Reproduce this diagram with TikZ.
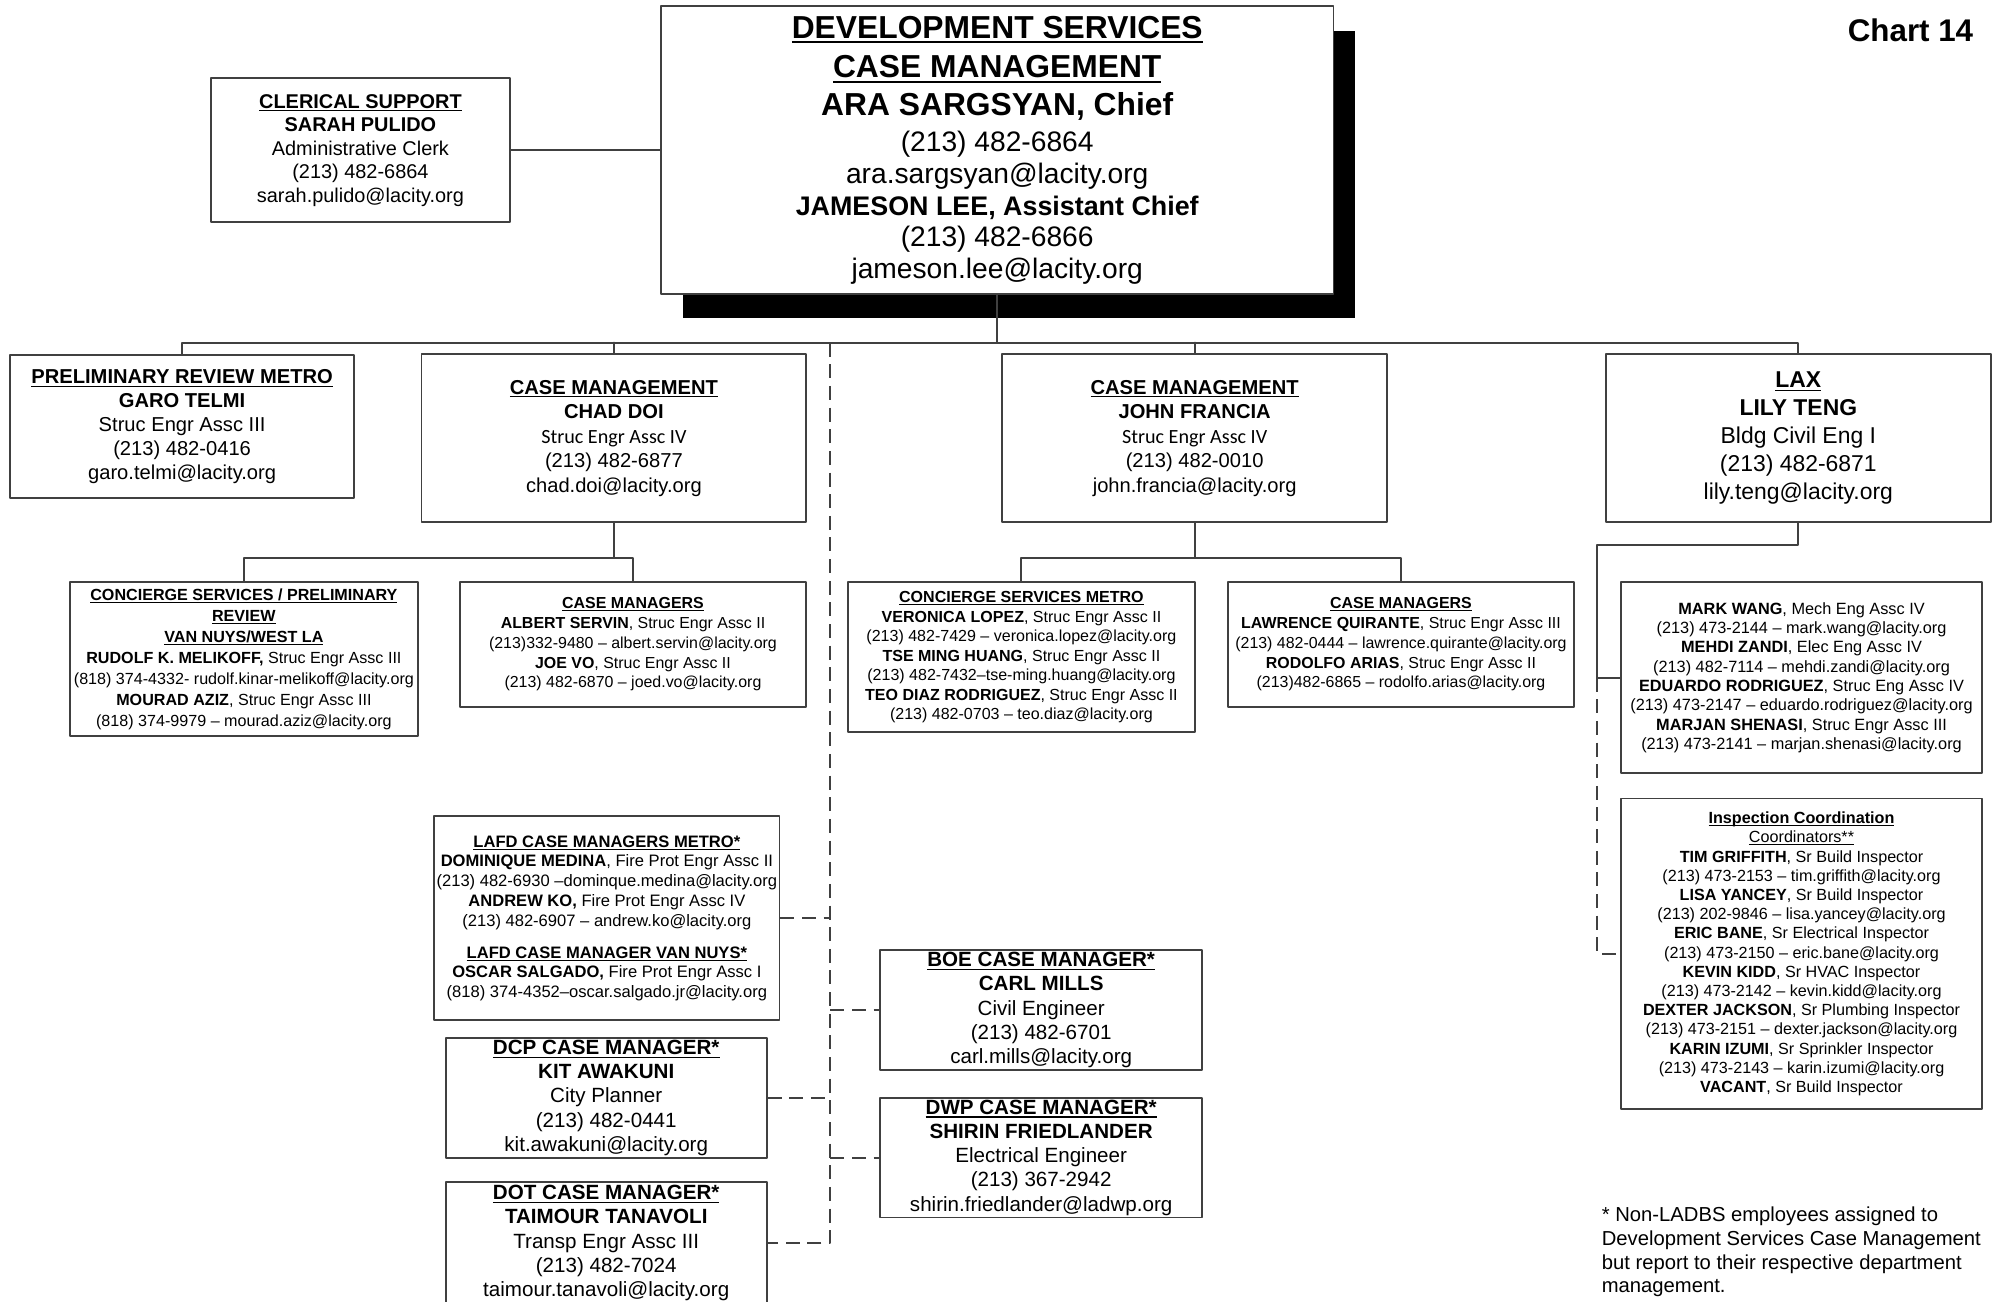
\documentclass[tikz,border=0pt]{standalone}
\usepackage{fontspec}
\setmainfont{Liberation Sans}
\newfontfamily\calfont{Carlito}
\usetikzlibrary{shadows}

\newcommand\ulinetext[1]{\setbox0\hbox{#1}\rlap{\rule[-0.16em]{\wd0}{0.065em}}\box0}
\newcommand\boxtitle[1]{\textbf{\ulinetext{#1}}}

\begin{document}
\begin{tikzpicture}[line cap=round,line join=round,
  orgbox/.style={draw=black!75,line width=0.4pt,fill=white,align=center,inner sep=0pt},
  fsize/.style 2 args={font=\fontsize{#1}{#2}\selectfont},
  link/.style={draw=black!75,line width=0.45pt},
  dlink/.style={link,line cap=butt,dash pattern=on 0.11cm off 0.06cm}]
  \useasboundingbox (0,0) rectangle (15.68,-10.22);
  % 主管与文书
  \node[orgbox,minimum width=5.28cm,minimum height=2.26cm,fsize={6.3}{7.11},
        drop shadow={shadow xshift=0.17cm,shadow yshift=-0.19cm,fill=black,opacity=1}] (main) at (7.83,-1.18)
  {{\fontsize{7.1}{7.1}\selectfont\boxtitle{DEVELOPMENT SERVICES}}\\[0.06cm]
   {\fontsize{7.1}{7.1}\selectfont\boxtitle{CASE MANAGEMENT}}\\[0.05cm]
   {\fontsize{7.1}{7.1}\selectfont\bfseries ARA SARGSYAN, Chief}\\[0.03cm]
   (213) 482-6864\\
   ara.sargsyan@lacity.org\\
   {\fontsize{6}{7.1}\selectfont\bfseries JAMESON LEE, Assistant Chief}\\
   (213) 482-6866\\
   jameson.lee@lacity.org};
  \node[orgbox,minimum width=2.35cm,minimum height=1.13cm,fsize={4.45}{5.26}] (clerical) at (2.83,-1.18)
  {\boxtitle{CLERICAL SUPPORT}\\ \textbf{SARAH PULIDO}\\ Administrative Clerk\\ (213) 482-6864\\ sarah.pulido@lacity.org};
  \node[anchor=east,inner sep=0pt,font=\fontsize{7}{8}\selectfont\bfseries] (chart) at (15.50,-0.24) {Chart 14};
  % 第二层
  \node[orgbox,minimum width=2.70cm,minimum height=1.12cm,fsize={4.5}{5.33}] (prelim) at (1.43,-3.35)
  {\boxtitle{PRELIMINARY REVIEW METRO}\\ \textbf{GARO TELMI}\\ Struc Engr Assc III\\ (213) 482-0416\\ garo.telmi@lacity.org};
  \node[orgbox,minimum width=3.02cm,minimum height=1.32cm,fsize={4.5}{5.48}] (chad) at (4.82,-3.44)
  {\boxtitle{CASE MANAGEMENT}\\ \textbf{CHAD DOI}\\ {\calfont Struc Engr Assc IV}\\ (213) 482-6877\\ chad.doi@lacity.org};
  \node[orgbox,minimum width=3.02cm,minimum height=1.32cm,fsize={4.5}{5.48}] (john) at (9.38,-3.44)
  {\boxtitle{CASE MANAGEMENT}\\ \textbf{JOHN FRANCIA}\\ {\calfont Struc Engr Assc IV}\\ (213) 482-0010\\ john.francia@lacity.org};
  \node[orgbox,minimum width=3.02cm,minimum height=1.32cm,fsize={5.12}{6.26}] (lax) at (14.12,-3.44)
  {\boxtitle{LAX}\\ \textbf{LILY TENG}\\ Bldg Civil Eng I\\ (213) 482-6871\\ lily.teng@lacity.org};
  % 第三层
  \node[orgbox,minimum width=2.73cm,minimum height=1.21cm,fsize={3.6}{4.69}] (conc1) at (1.915,-5.175)
  {\boxtitle{CONCIERGE SERVICES / PRELIMINARY}\\ \boxtitle{REVIEW}\\ \boxtitle{VAN NUYS/WEST LA}\\
   \textbf{RUDOLF K. MELIKOFF,} Struc Engr Assc III\\ (818) 374-4332- rudolf.kinar-melikoff@lacity.org\\
   \textbf{MOURAD AZIZ}, Struc Engr Assc III\\ (818) 374-9979 – mourad.aziz@lacity.org};
  \node[orgbox,minimum width=2.72cm,minimum height=0.98cm,fsize={3.56}{4.41}] (cm1) at (4.97,-5.06)
  {\boxtitle{CASE MANAGERS}\\ \textbf{ALBERT SERVIN}, Struc Engr Assc II\\ (213)332-9480 – albert.servin@lacity.org\\
   \textbf{JOE VO}, Struc Engr Assc II\\ (213) 482-6870 – joed.vo@lacity.org};
  \node[orgbox,minimum width=2.72cm,minimum height=1.18cm,fsize={3.58}{4.36}] (conc2) at (8.02,-5.16)
  {\boxtitle{CONCIERGE SERVICES METRO}\\ \textbf{VERONICA LOPEZ}, Struc Engr Assc II\\ (213) 482-7429 – veronica.lopez@lacity.org\\
   \textbf{TSE MING HUANG}, Struc Engr Assc II\\ (213) 482-7432–tse-ming.huang@lacity.org\\
   \textbf{TEO DIAZ RODRIGUEZ}, Struc Engr Assc II\\ (213) 482-0703 – teo.diaz@lacity.org};
  \node[orgbox,minimum width=2.72cm,minimum height=0.98cm,fsize={3.56}{4.41}] (cm2) at (11.00,-5.06)
  {\boxtitle{CASE MANAGERS}\\ \textbf{LAWRENCE QUIRANTE}, Struc Engr Assc III\\ (213) 482-0444 – lawrence.quirante@lacity.org\\
   \textbf{RODOLFO ARIAS}, Struc Engr Assc II\\ (213)482-6865 – rodolfo.arias@lacity.org};
  \node[orgbox,minimum width=2.83cm,minimum height=1.50cm,fsize={3.64}{4.31}] (laxstaff) at (14.145,-5.32)
  {\textbf{MARK WANG}, Mech Eng Assc IV\\ (213) 473-2144 – mark.wang@lacity.org\\
   \textbf{MEHDI ZANDI}, Elec Eng Assc IV\\ (213) 482-7114 – mehdi.zandi@lacity.org\\
   \textbf{EDUARDO RODRIGUEZ}, Struc Eng Assc IV\\ (213) 473-2147 – eduardo.rodriguez@lacity.org\\
   \textbf{MARJAN SHENASI}, Struc Engr Assc III\\ (213) 473-2141 – marjan.shenasi@lacity.org};
  \node[orgbox,minimum width=2.83cm,minimum height=2.44cm,fsize={3.61}{4.29}] (insp) at (14.145,-7.49)
  {\boxtitle{Inspection Coordination}\\ \ulinetext{Coordinators**}\\
   \textbf{TIM GRIFFITH}, Sr Build Inspector\\ (213) 473-2153 – tim.griffith@lacity.org\\
   \textbf{LISA YANCEY}, Sr Build Inspector\\ (213) 202-9846 – lisa.yancey@lacity.org\\
   \textbf{ERIC BANE}, Sr Electrical Inspector\\ (213) 473-2150 – eric.bane@lacity.org\\
   \textbf{KEVIN KIDD}, Sr HVAC Inspector\\ (213) 473-2142 – kevin.kidd@lacity.org\\
   \textbf{DEXTER JACKSON}, Sr Plumbing Inspector\\ (213) 473-2151 – dexter.jackson@lacity.org\\
   \textbf{KARIN IZUMI}, Sr Sprinkler Inspector\\ (213) 473-2143 – karin.izumi@lacity.org\\
   \textbf{VACANT}, Sr Build Inspector};
  % 外部部门
  \node[orgbox,minimum width=2.71cm,minimum height=1.60cm,fsize={3.7}{4.41}] (lafd) at (4.765,-7.21)
  {\boxtitle{LAFD CASE MANAGERS METRO*}\\ \textbf{DOMINIQUE MEDINA}, Fire Prot Engr Assc II\\ (213) 482-6930 –dominque.medina@lacity.org\\
   \textbf{ANDREW KO,} Fire Prot Engr Assc IV\\ (213) 482-6907 – andrew.ko@lacity.org\\[0.095cm]
   \boxtitle{LAFD CASE MANAGER VAN NUYS*}\\ \textbf{OSCAR SALGADO,} Fire Prot Engr Assc I\\ (818) 374-4352–oscar.salgado.jr@lacity.org};
  \node[orgbox,minimum width=2.52cm,minimum height=0.94cm,fsize={4.6}{5.4}] (dcp) at (4.76,-8.62)
  {\boxtitle{DCP CASE MANAGER*}\\ \textbf{KIT AWAKUNI}\\ City Planner\\ (213) 482-0441\\ kit.awakuni@lacity.org};
  \node[orgbox,minimum width=2.52cm,minimum height=0.96cm,fsize={4.6}{5.4}] (dot) at (4.76,-9.76)
  {\boxtitle{DOT CASE MANAGER*}\\ \textbf{TAIMOUR TANAVOLI}\\ Transp Engr Assc III\\ (213) 482-7024\\ taimour.tanavoli@lacity.org};
  \node[orgbox,minimum width=2.53cm,minimum height=0.94cm,fsize={4.6}{5.4}] (boe) at (8.175,-7.93)
  {\boxtitle{BOE CASE MANAGER*}\\ \textbf{CARL MILLS}\\ Civil Engineer\\ (213) 482-6701\\ carl.mills@lacity.org};
  \node[orgbox,minimum width=2.53cm,minimum height=0.94cm,fsize={4.6}{5.4}] (dwp) at (8.175,-9.09)
  {\boxtitle{DWP CASE MANAGER*}\\ \textbf{SHIRIN FRIEDLANDER}\\ Electrical Engineer\\ (213) 367-2942\\ shirin.friedlander@ladwp.org};
  % 脚注
  \node[anchor=west,align=left,inner sep=0pt,fsize={4.52}{5.32}] (note) at (12.57,-9.83)
  {* Non-LADBS employees assigned to\\ Development Services Case Management\\ but report to their respective department\\ management.};
  % 连线
  \coordinate (bus) at (7.83,-2.69);
  \coordinate (dtop) at (6.52,-2.69);
  \coordinate (chadbr) at (4.82,-4.38);
  \coordinate (johnbr) at (9.38,-4.38);
  \coordinate (laxbr) at (12.54,-4.28);
  \draw[link] (clerical) -- (main);
  \draw[link] (main.south) -- (bus);
  \draw[link] (prelim.north) |- (bus) -| (lax.north);
  \draw[link] (chad.north) -- (chad.north |- bus);
  \draw[link] (john.north) -- (john.north |- bus);
  \draw[link] (chad.south) -- (chadbr);
  \draw[link] (conc1.north) |- (chadbr) -| (cm1.north);
  \draw[link] (john.south) -- (johnbr);
  \draw[link] (conc2.north) |- (johnbr) -| (cm2.north);
  \draw[link] (lax.south) |- (laxbr) |- (laxstaff.west);
  \draw[dlink] (laxstaff.west -| laxbr) |- (insp.west);
  \draw[dlink] (dtop) |- (dot.east);
  \draw[dlink] (lafd.east) -- (lafd.east -| dtop);
  \draw[dlink] (dcp.east) -- (dcp.east -| dtop);
  \draw[dlink] (dtop |- boe.west) -- (boe.west);
  \draw[dlink] (dtop |- dwp.west) -- (dwp.west);
\end{tikzpicture}
\end{document}
